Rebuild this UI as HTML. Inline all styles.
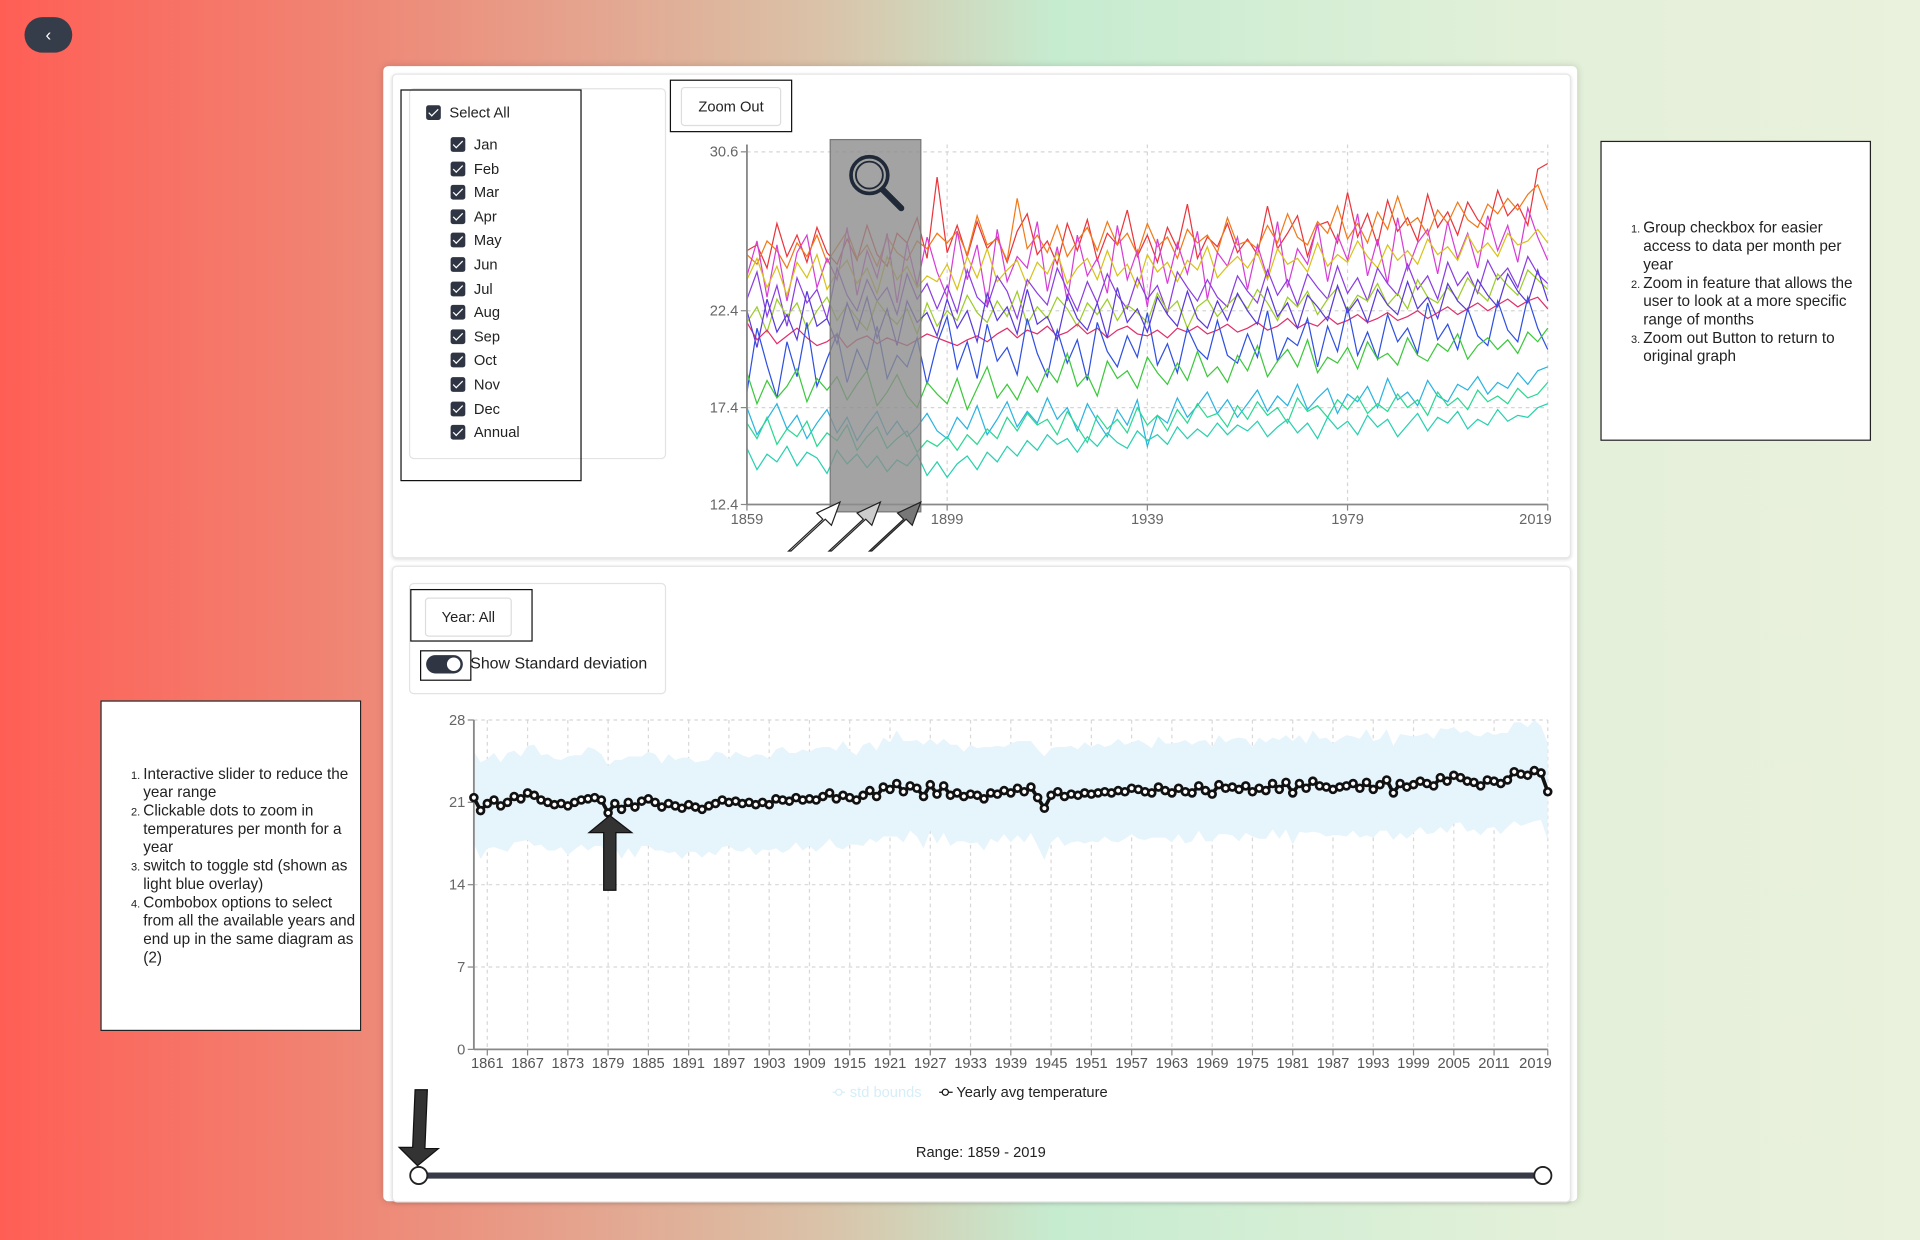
<!DOCTYPE html>
<html><head><meta charset="utf-8">
<style>
html,body{margin:0;padding:0;width:1920px;height:1240px;overflow:hidden;}
body{background:linear-gradient(90deg,#ff5e55 0%,#ee8a78 20%,#d9c3a9 43%,#c6ecd0 55%,#e3f0d9 80%,#eaf1dc 100%);font-family:"Liberation Sans","DejaVu Sans",sans-serif;}
#wrap{position:absolute;left:0;top:0;width:1568px;height:1013px;transform:scale(1.22449);transform-origin:0 0;}
.abs{position:absolute;}
.card{position:absolute;background:#fff;border-radius:4px;}
.cb{position:absolute;width:12px;height:12px;background:#2f3542;border-radius:2px;}
.cb:after{content:"";position:absolute;left:4px;top:1px;width:3px;height:7px;border:solid #fff;border-width:0 1.5px 1.5px 0;transform:rotate(45deg);}
.lbl{position:absolute;font-size:12px;color:#222;}
.note{position:absolute;background:#fff;border:1px solid #222;font-size:12.5px;color:#222;line-height:15px;}
.note ol{margin:0;padding-left:34px;padding-right:4px;}
.note li::marker{font-size:9px;}
</style></head><body>
<div id="wrap">
<div class="abs" style="left:20px;top:14px;width:39px;height:29px;border-radius:15px;background:#363d4a;color:#fff;font-size:14px;text-align:center;line-height:28px;">‹</div>

<div class="card" style="left:313px;top:54px;width:975px;height:927px;box-shadow:0 0 6px rgba(0,0,0,0.15);"></div>
<div class="card" style="left:320px;top:60px;width:961px;height:394px;border:1px solid #e6e6e6;box-shadow:0 1px 3px rgba(0,0,0,0.12);"></div>
<div class="card" style="left:320px;top:462px;width:961px;height:518px;border:1px solid #e6e6e6;box-shadow:0 1px 3px rgba(0,0,0,0.12);"></div>

<div class="card" style="left:334px;top:72px;width:208px;height:301px;border:1px solid #e3e3e3;"></div>
<div class="abs" style="left:327px;top:73px;width:146px;height:318px;border:1px solid #111;"></div>
<div><div class="cb" style="left:348px;top:86px"></div><div class="lbl" style="left:367px;top:85px">Select All</div></div>
<div id="months"></div>

<div class="abs" style="left:547px;top:65px;width:98px;height:41px;border:1px solid #111;"></div>
<div class="abs" style="left:556px;top:71px;width:80px;height:30px;border:1px solid #ddd;border-radius:3px;font-size:12px;text-align:center;line-height:30px;color:#222;">Zoom Out</div>

<div class="card" style="left:334px;top:476px;width:208px;height:89px;border:1px solid #e3e3e3;"></div>
<div class="abs" style="left:335px;top:481px;width:98px;height:41px;border:1px solid #111;"></div>
<div class="abs" style="left:347px;top:488px;width:69px;height:30px;border:1px solid #ddd;border-radius:3px;font-size:12px;text-align:center;line-height:30px;color:#222;">Year: All</div>
<div class="abs" style="left:343px;top:531px;width:40px;height:23px;border:1px solid #111;"></div>
<div class="abs" style="left:348px;top:535px;width:30px;height:15px;border-radius:8px;background:#2f3542;"><div style="position:absolute;right:2px;top:2px;width:11px;height:11px;border-radius:50%;background:#fff"></div></div>
<div class="lbl" style="left:384px;top:534px;font-size:13px">Show Standard deviation</div>

<div class="note" style="left:1307px;top:115px;width:219px;height:243px;">
<ol style="margin-top:63px"><li>Group checkbox for easier access to data per month per year</li><li>Zoom in feature that allows the user to look at a more specific range of months</li><li>Zoom out Button to return to original graph</li></ol></div>
<div class="note" style="left:82px;top:572px;width:211px;height:268px;">
<ol style="margin-top:52px"><li>Interactive slider to reduce the year range</li><li>Clickable dots to zoom in temperatures per month for a year</li><li>switch to toggle std (shown as light blue overlay)</li><li>Combobox options to select from all the available years and end up in the same diagram as (2)</li></ol></div>

<div class="lbl" style="left:700px;top:934px;width:202px;text-align:center;font-size:12px">Range: 1859 - 2019</div>

<svg id="svg" class="abs" style="left:0;top:0" width="1568" height="1013" font-family="Liberation Sans, sans-serif"></svg>
</div>

<script>
// ===== Chart 1 data (every 2 years, 1859-2019) =====
const c1Start = 1859, c1Step = 2;
const c1Ticks = [1859, 1899, 1939, 1979, 2019];
const c1YTicks = [12.4, 17.4, 22.4, 30.6];
const c1Names = ['Jul','Aug','Jun','Sep','May','Oct','Annual','Apr','Nov','Mar','Dec','Feb','Jan'];
const c1Colors = ['#e8363c','#f07a1a','#d63ed6','#d8c21a','#8a3fe0','#9ccc2a','#e0306a','#3050e0','#5a3ad8','#3cc83c','#2ab4e0','#2ad890','#28d0b0'];
const sJul=[25.5,25.8,24.6,26.9,25.2,26.3,24.9,26.7,25.4,24.8,26.1,25.0,26.8,25.3,24.7,26.4,25.9,27.2,25.1,29.3,25.4,26.8,25.2,27.0,25.6,26.2,24.9,26.5,27.4,25.3,26.0,24.8,26.9,25.5,27.1,25.0,26.4,25.8,27.6,25.2,26.3,24.9,26.7,25.6,27.9,25.1,26.2,25.7,26.9,25.4,26.1,25.3,27.8,25.6,26.4,27.3,25.2,26.8,27.0,25.9,28.5,26.2,27.4,25.8,28.1,26.5,27.2,26.0,28.4,26.7,27.5,26.3,28.0,27.1,26.6,28.6,27.3,27.9,26.8,29.7,30.0];
const sAug=[25.3,24.8,26.0,25.5,24.6,25.9,25.2,26.3,24.9,25.7,26.5,25.1,25.8,24.7,26.2,25.4,25.0,26.0,25.6,26.4,25.9,26.5,25.3,27.3,25.8,26.1,25.0,28.2,25.6,26.3,25.4,26.8,25.2,26.0,26.7,25.5,27.0,25.8,26.4,25.3,26.9,25.7,26.2,25.1,26.6,25.9,26.3,25.4,27.2,25.8,26.0,25.6,26.8,25.9,27.4,26.2,25.8,27.0,26.4,27.8,26.1,26.9,25.9,27.5,26.6,28.3,26.8,27.2,26.3,27.6,26.9,28.0,27.1,26.7,27.9,27.4,28.2,27.6,28.4,28.9,27.6];
const sJun=[24.2,26.0,23.1,25.8,22.9,25.4,26.3,23.6,25.1,24.0,26.7,23.2,25.5,24.1,26.4,22.8,25.9,23.7,26.2,24.4,23.1,26.5,24.0,25.8,22.7,26.6,23.9,25.2,24.6,27.0,23.4,25.7,22.9,26.3,24.2,25.1,23.3,26.8,24.0,25.5,22.6,26.1,23.8,25.9,24.3,26.5,23.0,25.4,24.7,26.2,23.5,25.8,24.1,27.0,23.6,25.6,24.8,26.9,23.9,26.3,25.0,27.4,24.2,26.1,23.8,27.2,24.5,25.9,26.6,24.3,27.0,25.1,26.4,24.6,27.3,25.5,26.8,24.9,27.7,26.2,25.0];
const sSep=[24.0,25.1,23.6,24.7,23.2,24.9,24.1,25.3,23.5,24.4,25.0,23.8,24.6,23.3,25.2,24.0,24.7,23.6,24.2,23.9,24.8,23.5,25.2,24.1,25.6,23.9,24.5,25.0,23.7,24.9,24.3,25.4,23.8,24.6,25.1,24.0,25.5,24.2,24.8,23.6,25.3,24.4,24.9,23.9,25.0,24.5,25.7,24.1,24.7,25.2,24.6,25.4,24.0,25.6,24.8,25.1,24.4,25.9,24.7,25.3,24.9,26.0,25.2,24.6,25.8,25.0,25.5,24.8,26.1,25.3,25.7,25.0,26.3,25.4,25.9,25.2,26.4,25.8,26.0,26.6,25.9];
const sMay=[23.0,24.4,22.1,23.7,21.6,24.1,22.8,23.5,22.0,24.6,23.2,22.4,24.0,22.9,23.6,22.2,24.3,23.0,23.8,22.5,23.7,22.3,24.5,23.1,22.6,24.2,23.4,22.0,24.0,23.3,22.7,24.6,23.5,22.4,23.9,22.8,24.3,23.2,22.5,24.1,23.0,23.7,22.3,24.4,23.6,22.9,24.0,23.1,22.6,24.2,23.4,22.8,24.5,23.2,24.0,22.7,24.3,23.6,23.0,24.7,23.3,24.1,22.9,24.6,23.8,23.2,24.8,23.5,24.2,23.0,24.9,23.7,24.4,23.3,25.0,24.0,24.6,23.6,25.2,24.3,23.8];
const sOct=[21.8,22.6,21.3,23.0,22.1,22.8,21.5,22.4,23.1,21.9,22.7,22.0,21.4,22.9,22.2,21.7,22.5,21.2,22.8,21.6,22.4,21.9,23.2,22.3,21.8,22.9,22.1,23.4,21.7,22.6,22.0,23.1,22.5,21.6,22.8,22.2,23.0,21.9,22.7,22.3,21.8,23.3,22.4,22.9,21.5,22.6,23.0,22.1,22.7,23.2,22.5,23.5,22.8,21.9,23.1,22.6,23.4,22.2,23.0,23.6,22.4,23.2,22.9,23.8,22.7,23.3,22.5,24.0,23.1,22.8,23.6,23.0,24.1,23.4,22.9,24.3,23.7,23.2,24.5,24.0,23.5];
const sAnnual=[21.8,20.9,21.4,20.7,21.1,21.5,21.0,20.6,20.8,21.2,20.5,20.9,21.1,20.7,21.0,20.8,20.6,20.9,21.2,21.0,20.8,20.6,20.9,21.1,20.8,21.2,21.5,21.0,21.4,21.2,21.6,21.1,21.3,21.7,21.2,21.5,21.0,21.4,21.6,21.2,21.1,21.4,21.0,21.5,21.3,21.6,21.2,21.4,21.7,21.3,21.5,21.8,21.4,21.6,22.0,21.5,21.8,21.6,22.1,21.7,21.9,22.2,21.8,22.0,22.3,21.9,22.1,22.4,22.0,22.3,22.6,22.2,22.5,22.8,22.4,22.7,23.0,22.6,22.9,23.1,22.5];
const sApr=[18.2,21.5,19.6,17.9,20.8,19.0,21.8,18.5,19.9,21.2,18.7,20.4,19.3,21.6,18.9,20.1,19.5,21.0,18.6,20.7,22.1,19.4,20.8,18.9,21.7,19.8,20.5,19.1,22.0,20.2,19.0,21.4,19.7,20.9,18.8,21.8,20.3,19.5,21.1,20.0,22.3,19.6,20.7,19.2,21.5,20.4,19.9,21.9,20.1,19.7,21.2,20.0,22.4,19.8,21.0,20.6,22.0,19.5,21.6,20.3,22.6,20.1,21.3,19.9,22.2,20.8,21.5,20.2,22.8,20.9,21.7,20.4,22.5,21.1,20.6,22.9,21.4,20.8,23.1,21.5,20.4];
const sNov=[22.4,20.5,23.0,21.3,22.2,20.9,23.4,21.6,22.0,20.7,22.8,21.4,23.1,21.0,22.5,20.6,22.9,21.8,22.3,21.1,23.0,21.5,22.4,20.8,23.3,21.9,22.6,21.2,23.5,21.7,22.1,20.9,23.2,22.0,21.4,22.8,21.0,23.6,21.8,22.5,21.3,23.1,22.2,21.6,23.4,22.0,21.5,22.9,21.9,23.3,22.4,21.7,23.6,22.1,22.8,21.5,23.2,22.6,21.9,23.7,22.3,23.0,21.8,23.5,22.7,22.2,23.9,22.5,23.1,22.0,23.8,22.9,22.4,24.0,23.2,22.6,24.3,23.4,22.8,24.5,22.9];
const sMar=[19.2,17.6,18.8,17.9,18.5,19.4,17.7,18.9,18.3,19.0,17.8,18.6,19.3,17.5,18.2,19.1,18.0,17.4,18.7,18.1,17.6,18.9,17.3,18.4,19.5,17.9,18.6,17.8,19.0,18.2,19.4,18.7,20.2,18.5,19.1,18.0,19.8,18.9,19.3,18.4,20.0,19.2,18.6,19.7,18.8,20.3,19.0,19.5,18.7,20.1,19.3,20.6,19.0,19.8,20.4,19.5,20.9,19.2,20.0,19.7,20.5,19.4,20.8,19.9,20.2,19.6,21.0,20.1,19.8,20.7,20.3,21.2,19.9,20.6,21.0,20.4,20.9,20.2,21.3,20.8,21.5];
const sDec=[17.4,16.0,16.8,17.6,16.3,17.0,15.8,16.6,17.3,16.1,16.9,15.7,16.5,17.2,16.0,16.7,15.9,16.4,17.1,16.2,15.8,16.9,16.3,17.5,16.0,16.8,17.7,16.4,17.2,16.6,17.9,16.8,17.4,16.2,17.6,16.7,15.9,17.3,16.5,17.8,15.4,17.0,16.6,17.9,16.9,17.5,18.2,17.1,17.8,16.9,17.6,18.3,17.2,18.0,17.5,18.6,17.3,17.9,18.4,17.1,18.1,17.7,18.5,17.4,18.9,17.8,18.2,17.5,18.8,18.0,17.7,18.6,18.3,19.0,18.1,18.7,18.4,19.2,18.6,19.3,19.5];
const sFeb=[16.6,15.8,16.9,15.5,16.3,15.9,16.7,15.4,16.1,15.7,16.5,15.2,15.9,16.4,15.3,15.8,16.2,15.1,15.7,15.4,15.9,15.2,16.0,15.5,16.3,15.8,16.9,16.2,17.1,16.5,16.8,16.0,17.2,16.4,15.6,17.0,16.3,16.8,16.1,17.4,16.5,17.0,16.2,17.3,16.6,17.6,16.9,17.1,16.4,17.5,16.8,17.7,17.0,17.4,16.6,17.9,17.2,17.5,16.9,17.8,17.3,18.0,17.1,17.6,17.2,18.1,17.4,17.8,17.0,18.2,17.5,17.9,17.3,18.3,17.7,18.0,17.6,18.4,17.9,18.1,18.7];
const sJan=[15.3,14.2,15.0,14.6,15.4,14.4,15.1,14.8,14.0,15.2,14.5,15.0,14.3,14.9,14.1,14.7,14.4,15.0,13.9,14.6,13.8,14.5,14.9,14.2,15.1,14.6,15.4,14.9,15.7,15.2,16.0,15.5,15.8,15.1,15.9,15.4,16.1,15.6,15.3,16.2,15.7,16.0,15.5,16.4,15.8,16.3,15.9,16.6,16.0,16.5,16.2,16.7,15.9,16.4,16.8,16.1,16.6,15.8,16.9,16.3,16.7,16.0,17.0,16.4,16.8,15.9,16.5,17.1,16.2,16.9,16.6,17.2,16.3,16.8,16.5,17.3,16.7,17.0,16.9,17.4,17.6];
const c1Series=[sJul,sAug,sJun,sSep,sMay,sOct,sAnnual,sApr,sNov,sMar,sDec,sFeb,sJan];

// ===== Chart 2 data (yearly, 1859-2019) =====
const c2Start = 1859;
const c2YTicks = [0, 7, 14, 21, 28];
const c2XTickLabels = [1861,1867,1873,1879,1885,1891,1897,1903,1909,1915,1921,1927,1933,1939,1945,1951,1957,1963,1969,1975,1981,1987,1993,1999,2005,2011,2019];
const yearlyAvg=[21.4,20.3,20.9,21.2,20.7,21.0,21.5,21.3,21.8,21.6,21.2,21.0,20.8,20.9,20.7,21.0,21.2,21.3,21.4,21.2,20.1,20.9,20.4,21.0,20.6,21.1,21.3,21.0,20.6,20.9,20.7,20.5,20.8,20.6,20.4,20.7,20.9,21.2,21.0,21.1,20.9,21.0,20.8,21.0,20.8,21.3,21.2,21.1,21.4,21.2,21.3,21.2,21.5,21.8,21.3,21.6,21.4,21.2,21.6,22.0,21.5,22.3,22.1,22.6,21.9,22.4,22.2,21.5,22.5,21.7,22.4,21.6,21.8,21.5,21.7,21.6,21.3,21.8,21.7,22.0,21.8,22.2,21.9,22.3,21.4,20.5,21.6,21.9,21.5,21.7,21.6,21.8,21.7,21.8,21.9,21.8,22.0,21.9,22.2,22.1,21.9,21.8,22.3,22.0,21.8,22.2,21.9,21.8,22.4,22.0,21.7,22.5,22.2,22.3,22.1,22.4,21.9,22.2,22.0,22.6,22.1,22.7,21.8,22.6,22.2,22.8,22.4,22.3,22.1,22.3,22.4,22.6,22.2,22.7,22.1,22.5,22.9,21.8,22.6,22.3,22.5,22.8,22.6,22.4,23.1,22.8,23.3,23.1,22.8,22.7,22.4,22.9,22.8,22.6,22.9,23.6,23.4,23.3,23.7,23.5,21.9];
const yearlyStd=[3.9,4.1,3.8,4.0,3.7,4.2,3.9,3.6,4.0,4.3,3.8,4.1,3.9,3.7,4.2,4.0,3.8,4.4,4.1,3.9,4.0,3.7,4.2,3.9,4.3,3.8,4.0,4.1,3.7,4.2,3.9,4.3,4.0,3.8,4.1,3.9,4.4,4.0,3.7,4.2,4.1,3.8,4.3,4.0,3.9,4.2,4.5,4.1,3.8,4.3,4.0,4.4,4.2,3.9,4.1,4.6,4.0,3.8,4.3,4.1,3.9,4.2,4.0,4.5,4.3,3.8,4.1,4.4,3.9,4.2,4.0,4.3,4.1,3.8,4.2,4.0,4.4,3.9,4.1,3.7,4.2,4.0,4.3,3.9,4.1,4.4,4.0,3.8,4.2,4.1,3.9,4.3,4.0,4.2,3.8,4.1,4.4,4.0,3.9,4.2,4.1,3.8,4.3,4.0,4.2,3.9,4.4,4.1,3.8,4.3,4.0,4.2,3.9,4.1,4.4,4.0,3.8,4.3,4.1,3.9,4.2,4.0,4.4,4.1,3.8,4.3,4.0,4.2,3.9,4.1,4.3,4.0,4.2,4.5,4.1,3.9,4.3,4.0,4.2,4.4,4.1,3.9,4.3,4.0,4.2,4.4,4.1,3.8,4.3,4.0,4.2,4.1,3.9,4.3,4.0,4.2,4.4,4.1,4.3,4.0,4.1];

// month checkboxes
const monthLabels=['Jan','Feb','Mar','Apr','May','Jun','Jul','Aug','Sep','Oct','Nov','Dec','Annual'];
const mWrap=document.getElementById('months');
monthLabels.forEach((m,i)=>{
  const d=document.createElement('div');
  
  
  const y=112+i*19.6;
  d.innerHTML='<div class="cb" style="left:368px;top:'+y+'px"></div><div class="lbl" style="left:387px;top:'+(y-1)+'px">'+m+'</div>';
  mWrap.appendChild(d);
});

const NS='http://www.w3.org/2000/svg';
const svg=document.getElementById('svg');
function el(tag,attrs,parent){const e=document.createElementNS(NS,tag);for(const k in attrs)e.setAttribute(k,attrs[k]);(parent||svg).appendChild(e);return e;}

// ---- chart 1 ----
const x1=y=>610+(y-1859)*(1264-610)/160;
const y1=v=>412-(v-12.4)*(412-124)/18.2;
const g1=el('g',{});


c1YTicks.forEach(t=>{
  const l=el('line',{x1:610,x2:1264,y1:y1(t),y2:y1(t),stroke:'#d5d5d5','stroke-dasharray':'3,3'},g1);
  
  const tx=el('text',{x:603,y:y1(t)+4,'text-anchor':'end','font-size':12,fill:'#666'},g1);tx.textContent=t.toFixed(1);
  
  el('line',{x1:605,x2:610,y1:y1(t),y2:y1(t),stroke:'#888'},g1);
});
c1Ticks.forEach(t=>{
  if(t>1859){const l=el('line',{x1:x1(t),x2:x1(t),y1:118,y2:412,stroke:'#d5d5d5','stroke-dasharray':'3,3'},g1);
  }
  const tx=el('text',{x:x1(t)-(t==2019?10:0),y:428,'text-anchor':'middle','font-size':12,fill:'#666'},g1);tx.textContent=t;
  
  el('line',{x1:x1(t),x2:x1(t),y1:412,y2:417,stroke:'#888'},g1);
});
c1Series.forEach((s,k)=>{
  const pts=s.map((v,i)=>x1(c1Start+i*c1Step).toFixed(1)+','+y1(v).toFixed(1)).join(' ');
  const p=el('polyline',{points:pts,fill:'none',stroke:c1Colors[k],'stroke-width':1},g1);
  
  
});
el('line',{x1:610,x2:610,y1:118,y2:412,stroke:'#888','stroke-width':1.5},g1);
el('line',{x1:610,x2:1264,y1:412,y2:412,stroke:'#888','stroke-width':1.5},g1);
// zoom brush
const br=el('rect',{x:678,y:114,width:74,height:304,fill:'#8c8c8c','fill-opacity':0.8,stroke:'#777'},g1);

const mg=el('g',{stroke:'#1f2937','stroke-width':3,fill:'none'},g1);

el('circle',{cx:710,cy:143,r:15},mg);el('circle',{cx:710,cy:143,r:11,'stroke-width':1.5},mg);
el('line',{x1:721,y1:155,x2:736,y2:170,'stroke-width':5,'stroke-linecap':'round'},mg);
// arrows
[['#fff',0],['#ccc',33],['#777',66]].forEach((a,i)=>{
  const bx=644+a[1],by=450;
  const p=el('polygon',{points:`${bx},${by} ${bx+28},${by-26} ${bx+23},${by-31} ${bx+42},${by-40} ${bx+35},${by-21} ${bx+30},${by-26} ${bx+2},${by}`,fill:a[0],stroke:'#222','stroke-width':1},g1);
  
});

// ---- chart 2 ----
const x2=y=>387+(y-1859)*(1264-387)/160;
const y2=v=>857-v*(857-588)/28;
const g2=el('g',{});


c2YTicks.forEach(t=>{
  const l=el('line',{x1:387,x2:1264,y1:y2(t),y2:y2(t),stroke:'#d8d8d8','stroke-dasharray':'3,3'},g2);
  
  const tx=el('text',{x:380,y:y2(t)+4,'text-anchor':'end','font-size':12,fill:'#666'},g2);tx.textContent=t;
  
  el('line',{x1:382,x2:387,y1:y2(t),y2:y2(t),stroke:'#888'},g2);
});
c2XTickLabels.forEach(t=>{
  const l=el('line',{x1:x2(t),x2:x2(t),y1:588,y2:857,stroke:'#d8d8d8','stroke-dasharray':'3,3'},g2);
  
  const tx=el('text',{x:x2(t)-(t==2019?10:0),y:872,'text-anchor':'middle','font-size':12,fill:'#555'},g2);tx.textContent=t;
  
  el('line',{x1:x2(t),x2:x2(t),y1:857,y2:862,stroke:'#888'},g2);
});
let up=yearlyAvg.map((v,i)=>x2(c2Start+i).toFixed(1)+','+y2(v+yearlyStd[i]).toFixed(1));
let lo=yearlyAvg.map((v,i)=>x2(c2Start+i).toFixed(1)+','+y2(v-yearlyStd[i]).toFixed(1)).reverse();
const band=el('polygon',{points:up.concat(lo).join(' '),fill:'#e6f4fb'},g2);

el('line',{x1:387,x2:387,y1:588,y2:857,stroke:'#888','stroke-width':1.5},g2);
el('line',{x1:387,x2:1264,y1:857,y2:857,stroke:'#888','stroke-width':1.5},g2);
const ln=el('polyline',{points:yearlyAvg.map((v,i)=>x2(c2Start+i).toFixed(1)+','+y2(v).toFixed(1)).join(' '),fill:'none',stroke:'#111','stroke-width':3},g2);

yearlyAvg.forEach((v,i)=>{
  const c=el('circle',{cx:x2(c2Start+i),cy:y2(v),r:2.8,fill:'#fff',stroke:'#111','stroke-width':2.2},g2);
  
  
});
// legend
const lg=el('g',{},g2);
el('line',{x1:680,x2:690,y1:892,y2:892,stroke:'#d6eef8'},lg);el('circle',{cx:685,cy:892,r:2.5,fill:'#fff',stroke:'#d6eef8'},lg);
const t1=el('text',{x:694,y:896,'font-size':12,fill:'#d6eef8'},lg);t1.textContent='std bounds';
el('line',{x1:767,x2:778,y1:892,y2:892,stroke:'#111'},lg);el('circle',{cx:772,cy:892,r:2.5,fill:'#fff',stroke:'#111'},lg);
const t2=el('text',{x:781,y:896,'font-size':12,fill:'#222'},lg);t2.textContent='Yearly avg temperature';
// annotation arrows
const a1=el('polygon',{points:'493,727 503,727 503,680 516,680 498,666 481,680 493,680',fill:'#333',stroke:'#111'},g2);

const a2=el('polygon',{points:'339,890 349,890 347,938 358,938 341,952 326,937 337,937',fill:'#333',stroke:'#111'});

// slider
const tr=el('line',{x1:342,x2:1260,y1:960,y2:960,stroke:'#363b47','stroke-width':5});

const h1=el('circle',{cx:342,cy:960,r:7,fill:'#fff',stroke:'#222','stroke-width':1.5});

const h2=el('circle',{cx:1260,cy:960,r:7,fill:'#fff',stroke:'#222','stroke-width':1.5});

</script>
</body></html>
